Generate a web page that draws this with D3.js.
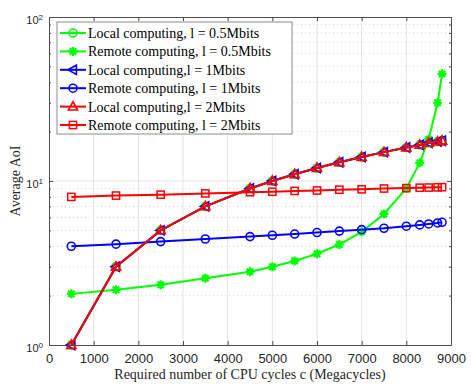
<!DOCTYPE html>
<html>
<head>
<meta charset="utf-8">
<script src="https://cdn.jsdelivr.net/npm/d3@7"></script>
<style>
  body { margin: 0; background: #fff; }
  svg { display: block; }
</style>
</head>
<body>
<div id="container"></div>
<script>
/* DATA */
const cycles = [500, 1500, 2500, 3500, 4500, 5000, 5500, 6000, 6500, 7000, 7500, 8000, 8300, 8500, 8700, 8800];
const localAoI = [1.0, 3.0, 5.0, 7.0, 9.0, 10.0, 11.0, 12.0, 13.0, 14.0, 15.0, 16.0, 16.6, 17.1, 17.4, 17.6];
const remote05 = [2.05, 2.17, 2.33, 2.55, 2.8, 3.0, 3.25, 3.6, 4.1, 4.9, 6.3, 9.0, 12.9, 18, 30, 45];
const remote1 = [4.0, 4.12, 4.27, 4.43, 4.58, 4.67, 4.75, 4.85, 4.95, 5.05, 5.15, 5.3, 5.4, 5.47, 5.55, 5.6];
const remote2 = [8.0, 8.15, 8.25, 8.4, 8.55, 8.6, 8.7, 8.75, 8.85, 8.9, 9.0, 9.05, 9.1, 9.12, 9.15, 9.17];
const xTicks = [0, 1000, 2000, 3000, 4000, 5000, 6000, 7000, 8000, 9000];
const yMajor = [1, 10, 100];

const series = [
  { name: "Local computing, l = 0.5Mbits", values: localAoI, color: "#00ff00", marker: "circle" },
  { name: "Remote computing, l = 0.5Mbits", values: remote05, color: "#00ff00", marker: "star" },
  { name: "Local computing,l = 1Mbits", values: localAoI, color: "#0000ff", marker: "left" },
  { name: "Remote computing, l = 1Mbits", values: remote1, color: "#0000ff", marker: "circle" },
  { name: "Local computing,l = 2Mbits", values: localAoI, color: "#ff0000", marker: "up" },
  { name: "Remote computing, l = 2Mbits", values: remote2, color: "#ff0000", marker: "square" }
];

/* CONSTANTS */
const width = 471, height = 390;
const margin = { top: 17, right: 20, bottom: 45, left: 49 };
const axisColor = "#4d4d4d";
const serif = "'Liberation Serif', 'Times New Roman', serif";
const sans = "'Liberation Sans', Arial, sans-serif";

const svg = d3.select("#container").append("svg")
  .attr("width", width)
  .attr("height", height);

/* SCALES */
const x = d3.scaleLinear().domain([0, 9000]).range([margin.left, width - margin.right]);
const y = d3.scaleLog().domain([1, 100]).range([height - margin.bottom, margin.top]);

const yMinor = [];
[1, 10].forEach(d => { for (let k = 2; k <= 9; k++) yMinor.push(d * k); });

/* GRID */
const grid = svg.append("g");
grid.selectAll(".vg").data(xTicks.slice(1, -1)).join("line")
  .attr("x1", d => x(d)).attr("x2", d => x(d))
  .attr("y1", y(1)).attr("y2", y(100))
  .attr("stroke", "#e3e3e3").attr("stroke-width", 1);
grid.selectAll(".hg").data([10]).join("line")
  .attr("x1", x(0)).attr("x2", x(9000))
  .attr("y1", d => y(d)).attr("y2", d => y(d))
  .attr("stroke", "#e3e3e3").attr("stroke-width", 1);
grid.selectAll(".hm").data(yMinor).join("line")
  .attr("x1", x(0)).attr("x2", x(9000))
  .attr("y1", d => y(d)).attr("y2", d => y(d))
  .attr("stroke", "#d6d6d6").attr("stroke-width", 1)
  .attr("stroke-dasharray", "1,3");

/* AXES */
const xAxis = svg.append("g")
  .attr("transform", `translate(0,${y(1)})`)
  .call(d3.axisBottom(x).tickValues(xTicks).tickFormat(d3.format("d")).tickSizeInner(-4).tickSizeOuter(0).tickPadding(9));
const xTop = svg.append("g")
  .attr("transform", `translate(0,${y(100)})`)
  .call(d3.axisTop(x).tickValues(xTicks).tickSizeInner(-4).tickSizeOuter(0).tickFormat(""));
const yLeft = svg.append("g")
  .attr("transform", `translate(${x(0)},0)`)
  .call(d3.axisLeft(y).tickValues(yMajor).tickSizeInner(-4).tickSizeOuter(0).tickFormat(""));
const yLeftMinor = svg.append("g")
  .attr("transform", `translate(${x(0)},0)`)
  .call(d3.axisLeft(y).tickValues(yMinor).tickSizeInner(-2).tickSizeOuter(0).tickFormat(""));
const yRight = svg.append("g")
  .attr("transform", `translate(${x(9000)},0)`)
  .call(d3.axisRight(y).tickValues(yMajor).tickSizeInner(-4).tickSizeOuter(0).tickFormat(""));
const yRightMinor = svg.append("g")
  .attr("transform", `translate(${x(9000)},0)`)
  .call(d3.axisRight(y).tickValues(yMinor).tickSizeInner(-2).tickSizeOuter(0).tickFormat(""));

[xAxis, xTop, yLeft, yLeftMinor, yRight, yRightMinor].forEach(g => {
  g.selectAll("path,line").attr("stroke", axisColor);
  g.selectAll("text").attr("fill", "#262626")
    .style("font-family", sans).style("font-size", "13px");
});

// y tick labels with exponents
const yLab = svg.append("g")
  .style("font-family", sans).attr("fill", "#262626");
yLab.selectAll("text").data(yMajor).join("text")
  .attr("x", x(0) - 6)
  .attr("y", d => y(d) + 6.5)
  .attr("text-anchor", "end")
  .style("font-size", "11px")
  .each(function(d) {
    const t = d3.select(this);
    t.append("tspan").text("10");
    t.append("tspan").attr("dy", -4).style("font-size", "8px").text(Math.round(Math.log10(d)));
  });

/* AXIS LABELS */
svg.append("text")
  .attr("x", (x(0) + x(9000)) / 2)
  .attr("y", 379)
  .attr("text-anchor", "middle")
  .style("font-family", serif)
  .style("font-size", "14px")
  .attr("fill", "#262626")
  .text("Required number of CPU cycles c (Megacycles)");
svg.append("text")
  .attr("transform", `translate(20,${(y(1) + y(100)) / 2}) rotate(-90)`)
  .attr("text-anchor", "middle")
  .style("font-family", serif)
  .style("font-size", "14px")
  .attr("fill", "#262626")
  .text("Average AoI");

/* MARKERS */
function drawMarker(g, type, color) {
  if (type === "circle") {
    g.append("circle").attr("r", 4).attr("fill", "none").attr("stroke", color).attr("stroke-width", 1.6);
  } else if (type === "square") {
    g.append("rect").attr("x", -3.6).attr("y", -3.6).attr("width", 7.2).attr("height", 7.2)
      .attr("fill", "none").attr("stroke", color).attr("stroke-width", 1.5);
  } else if (type === "up") {
    g.append("path").attr("d", "M0,-5L4.6,3.4L-4.6,3.4Z")
      .attr("fill", "none").attr("stroke", color).attr("stroke-width", 1.6);
  } else if (type === "left") {
    g.append("path").attr("d", "M-5,0L3.4,-4.6L3.4,4.6Z")
      .attr("fill", "none").attr("stroke", color).attr("stroke-width", 1.6);
  } else if (type === "star") {
    g.append("path").attr("d", "M-4.5,0H4.5M0,-4.5V4.5M-3.2,-3.2L3.2,3.2M-3.2,3.2L3.2,-3.2")
      .attr("fill", "none").attr("stroke", color).attr("stroke-width", 2.2);
  }
}

/* LINES */
const line = d3.line().x((d, i) => x(cycles[i])).y(d => y(d));
const plot = svg.append("g");
series.forEach(s => {
  const g = plot.append("g");
  g.append("path").datum(s.values)
    .attr("d", line)
    .attr("fill", "none")
    .attr("stroke", s.color)
    .attr("stroke-width", 2);
  g.selectAll(".m").data(s.values).join("g")
    .attr("transform", (d, i) => `translate(${x(cycles[i])},${y(d)})`)
    .each(function() { drawMarker(d3.select(this), s.marker, s.color); });
});

/* LEGEND */
const legend = svg.append("g");
legend.append("rect")
  .attr("x", 57).attr("y", 22).attr("width", 235).attr("height", 112)
  .attr("fill", "#fff").attr("stroke", "#8c8c8c").attr("stroke-width", 1);
series.forEach((s, i) => {
  const ly = 33 + i * 18.4;
  const g = legend.append("g");
  g.append("line").attr("x1", 60).attr("x2", 86).attr("y1", ly).attr("y2", ly)
    .attr("stroke", s.color).attr("stroke-width", 2);
  drawMarker(g.append("g").attr("transform", `translate(73,${ly})`), s.marker, s.color);
  g.append("text").attr("x", 88).attr("y", ly + 5)
    .style("font-family", serif)
    .style("font-size", "14px")
    .attr("fill", "#000")
    .text(s.name);
});
</script>
</body>
</html>
